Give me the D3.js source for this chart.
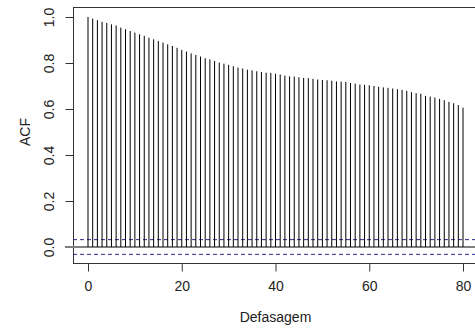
<!DOCTYPE html>
<html lang="pt">
<head>
  <meta charset="UTF-8" />
  <title>ACF</title>
  <script src="https://d3js.org/d3.v7.min.js"></script>
  <style>
    body { margin: 0; background: #fff; }
    svg { font-family: "Liberation Sans", Arial, sans-serif; font-size: 14px; }
  </style>
</head>
<body>
  <svg width="475" height="331"></svg>

  <script>
    // autocorrelation by lag (0..80)
    const lags = d3.range(0, 81);
    const acf = [
      1.000, 0.993, 0.986, 0.979, 0.974, 0.968, 0.963, 0.954, 0.947, 0.939,
      0.932, 0.925, 0.918, 0.910, 0.903, 0.896, 0.889, 0.881, 0.874, 0.866,
      0.857, 0.850, 0.842, 0.835, 0.828, 0.821, 0.816, 0.809, 0.802, 0.797,
      0.792, 0.786, 0.780, 0.776, 0.771, 0.768, 0.764, 0.761, 0.758, 0.757,
      0.753, 0.750, 0.745, 0.742, 0.741, 0.738, 0.735, 0.734, 0.731, 0.728,
      0.726, 0.725, 0.723, 0.720, 0.719, 0.718, 0.713, 0.710, 0.706, 0.705,
      0.703, 0.700, 0.697, 0.694, 0.692, 0.689, 0.686, 0.683, 0.679, 0.673,
      0.669, 0.666, 0.657, 0.654, 0.650, 0.644, 0.638, 0.631, 0.625, 0.617,
      0.606
    ];
    const ci = 0.032;
    const xTicks = [0, 20, 40, 60, 80];
    const yTicks = [0.0, 0.2, 0.4, 0.6, 0.8, 1.0];

    const box = { left: 73, top: 7, right: 478, bottom: 263 };

    const svg = d3.select("svg");

    const x = d3.scaleLinear()
      .domain([-3.2, 83.2])
      .range([box.left, box.right]);

    const y = d3.scaleLinear()
      .domain([-0.0696, 1.0435])
      .range([box.bottom, box.top]);

    // frame
    svg.append("rect")
      .attr("x", box.left + 0.5)
      .attr("y", box.top + 0.5)
      .attr("width", box.right - box.left)
      .attr("height", box.bottom - box.top)
      .attr("fill", "none")
      .attr("stroke", "#333");

    // axes, R style
    const xAxis = svg.append("g")
      .attr("transform", `translate(0,${box.bottom + 0.5})`)
      .call(d3.axisBottom(x).tickValues(xTicks).tickFormat(d3.format("d")).tickSize(8).tickPadding(10));
    xAxis.select(".domain").remove();

    const yAxis = svg.append("g")
      .attr("transform", `translate(${box.left + 0.5},0)`)
      .call(d3.axisLeft(y).tickValues(yTicks).tickFormat(d3.format(".1f")).tickSize(8));
    yAxis.select(".domain")
      .attr("d", `M0,${y(0)}V${y(1)}`);
    yAxis.selectAll(".tick text")
      .attr("x", null).attr("dy", null)
      .attr("transform", "translate(-25,0) rotate(-90)")
      .attr("text-anchor", "middle")
      .attr("dominant-baseline", "central");

    svg.selectAll(".tick text").attr("fill", "#222").style("font-size", "14px");
    svg.selectAll(".tick line, .domain").attr("stroke", "#333");

    // zero line
    svg.append("line")
      .attr("x1", box.left - 8).attr("x2", box.right)
      .attr("y1", y(0)).attr("y2", y(0))
      .attr("stroke", "#808080")
      .attr("stroke-width", 2);

    // confidence bounds
    [ci, -ci].forEach(v => {
      svg.append("line")
        .attr("x1", box.left).attr("x2", box.right)
        .attr("y1", y(v)).attr("y2", y(v))
        .attr("stroke", "#2a2a90")
        .attr("stroke-dasharray", "4,3");
    });

    // spikes
    svg.append("g")
      .selectAll("line")
      .data(lags)
      .join("line")
      .attr("x1", d => x(d)).attr("x2", d => x(d))
      .attr("y1", y(0))
      .attr("y2", d => y(acf[d]))
      .attr("stroke", "#000");

    // labels
    svg.append("text")
      .attr("x", (box.left + box.right) / 2)
      .attr("y", 322)
      .attr("text-anchor", "middle")
      .attr("fill", "#222")
      .text("Defasagem");

    svg.append("text")
      .attr("transform", `translate(25,${(y(0) + y(1)) / 2}) rotate(-90)`)
      .attr("text-anchor", "middle")
      .attr("dominant-baseline", "central")
      .attr("fill", "#222")
      .text("ACF");
  </script>
</body>
</html>
